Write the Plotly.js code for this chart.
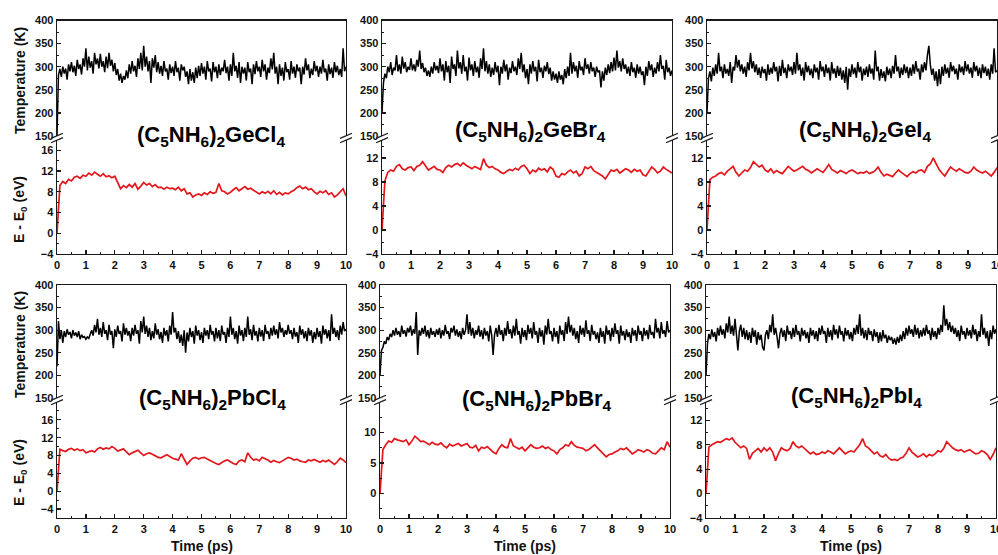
<!DOCTYPE html>
<html>
<head>
<meta charset="utf-8">
<script src="https://cdn.plot.ly/plotly-3.0.1.min.js"></script>
<style>
  html, body { margin: 0; padding: 0; background: #fff; }
  #chart { width: 998px; height: 555px; }
</style>
</head>
<body>
<div id="chart"></div>
<script>
// AIMD runs at 300 K: temperature and total-energy drift for six (C5NH6)2MX4 hybrids.
const TEMP_STEP_PS = 0.05;   // sampling interval of the temperature traces
const ENERGY_STEP_PS = 0.1;  // sampling interval of the energy traces

const compoundLabels = [
  '(C<sub>5</sub>NH<sub>6</sub>)<sub>2</sub>GeCl<sub>4</sub>',
  '(C<sub>5</sub>NH<sub>6</sub>)<sub>2</sub>GeBr<sub>4</sub>',
  '(C<sub>5</sub>NH<sub>6</sub>)<sub>2</sub>GeI<sub>4</sub>',
  '(C<sub>5</sub>NH<sub>6</sub>)<sub>2</sub>PbCl<sub>4</sub>',
  '(C<sub>5</sub>NH<sub>6</sub>)<sub>2</sub>PbBr<sub>4</sub>',
  '(C<sub>5</sub>NH<sub>6</sub>)<sub>2</sub>PbI<sub>4</sub>'
];

const timeTicks = [0, 1, 2, 3, 4, 5, 6, 7, 8, 9, 10];
const tempTicks = [150, 200, 250, 300, 350, 400];

// Temperature (K)
const tempGeCl4 = [
  150, 282, 295, 278, 300, 285, 296, 272, 305, 290,
  310, 288, 302, 280, 315, 295, 305, 283, 318, 300,
  340, 292, 322, 298, 312, 285, 330, 305, 318, 296,
  328, 300, 312, 288, 322, 297, 330, 302, 315, 290,
  308, 282, 295, 270, 285, 265, 280, 272, 292, 275,
  305, 285, 312, 290, 302, 278, 318, 295, 330, 292,
  345, 300, 322, 290, 312, 265, 318, 298, 325, 288,
  310, 285, 302, 280, 312, 290, 296, 272, 305, 286,
  300, 280, 312, 288, 298, 270, 305, 292, 300, 278,
  290, 262, 295, 270, 288, 265, 298, 275, 302, 280,
  308, 285, 300, 272, 312, 290, 296, 268, 310, 288,
  300, 275, 305, 282, 298, 290, 315, 286, 300, 270,
  305, 280, 330, 290, 302, 276, 310, 265, 300, 285,
  298, 270, 310, 288, 296, 262, 305, 284, 312, 290,
  300, 278, 315, 290, 305, 272, 298, 286, 318, 294,
  330, 285, 300, 262, 305, 280, 298, 270, 310, 288,
  295, 272, 312, 285, 300, 276, 305, 290, 298, 262,
  300, 283, 318, 292, 305, 275, 296, 282, 312, 290,
  302, 278, 300, 285, 315, 288, 296, 270, 305, 284,
  298, 276, 310, 288, 302, 282, 295, 278, 340, 290,
  300
];
const tempGeBr4 = [
  200, 265, 285, 275, 300, 288, 310, 282, 298, 292,
  325, 290, 305, 285, 322, 296, 310, 288, 300, 293,
  318, 292, 305, 290, 315, 300, 335, 295, 308, 288,
  298, 280, 292, 278, 300, 285, 310, 292, 302, 286,
  318, 290, 305, 270, 312, 288, 302, 265, 322, 295,
  305, 280, 335, 296, 310, 285, 325, 290, 300, 270,
  320, 292, 305, 280, 312, 288, 300, 276, 318, 295,
  340, 290, 312, 285, 305, 278, 298, 282, 310, 288,
  302, 260, 300, 285, 315, 290, 305, 272, 298, 286,
  312, 290, 300, 282, 318, 295, 330, 288, 305, 275,
  295, 262, 305, 285, 312, 290, 300, 268, 315, 288,
  298, 276, 302, 290, 310, 284, 298, 270, 290, 272,
  285, 265, 290, 272, 282, 262, 295, 275, 300, 280,
  330, 285, 310, 290, 302, 276, 312, 292, 300, 282,
  318, 295, 305, 285, 310, 290, 298, 278, 300, 288,
  292, 255, 290, 270, 298, 282, 305, 286, 310, 290,
  320, 292, 335, 298, 312, 290, 318, 295, 305, 285,
  300, 280, 310, 288, 298, 276, 305, 285, 300, 282,
  290, 260, 300, 280, 312, 292, 305, 278, 298, 285,
  310, 290, 325, 295, 302, 272, 315, 288, 298, 280,
  292
];
const tempGeI4 = [
  200, 275, 290, 268, 298, 280, 305, 285, 330, 290,
  300, 275, 305, 285, 295, 280, 310, 265, 300, 292,
  325, 298, 315, 290, 305, 285, 300, 278, 310, 292,
  330, 296, 312, 288, 305, 282, 298, 276, 300, 286,
  295, 270, 305, 282, 298, 285, 310, 290, 300, 268,
  302, 280, 315, 286, 298, 275, 305, 290, 300, 282,
  310, 285, 330, 292, 305, 280, 298, 270, 310, 288,
  302, 282, 296, 275, 305, 288, 298, 272, 312, 290,
  300, 278, 305, 286, 298, 270, 310, 285, 296, 276,
  302, 280, 298, 272, 292, 265, 300, 250, 296, 278,
  305, 284, 298, 276, 310, 288, 300, 270, 296, 282,
  300, 278, 305, 285, 296, 272, 335, 290, 300, 270,
  295, 276, 290, 268, 300, 282, 296, 275, 302, 285,
  325, 290, 300, 276, 298, 282, 305, 286, 300, 275,
  298, 280, 305, 285, 312, 290, 296, 272, 305, 288,
  310, 292, 325, 345, 305, 282, 296, 270, 290, 258,
  295, 262, 300, 280, 305, 285, 298, 276, 310, 290,
  302, 284, 296, 272, 305, 288, 300, 282, 312, 290,
  305, 285, 298, 276, 310, 290, 302, 280, 298, 275,
  305, 286, 300, 280, 296, 272, 305, 285, 340, 288,
  292
];
const tempPbCl4 = [
  220, 320, 280, 300, 272, 298, 285, 302, 290, 296,
  282, 300, 288, 295, 285, 298, 280, 290, 284, 286,
  280, 285, 282, 290, 300, 288, 312, 295, 325, 290,
  305, 285, 318, 292, 300, 278, 312, 290, 298, 260,
  302, 285, 310, 292, 298, 275, 315, 290, 305, 288,
  298, 276, 305, 288, 312, 292, 300, 270, 320, 295,
  330, 292, 310, 285, 305, 278, 298, 282, 315, 290,
  302, 280, 296, 272, 305, 288, 300, 275, 310, 290,
  340, 295, 305, 280, 298, 272, 290, 265, 300, 250,
  295, 275, 305, 285, 298, 270, 310, 288, 300, 278,
  296, 272, 305, 288, 300, 280, 312, 290, 298, 275,
  305, 282, 300, 276, 310, 290, 296, 272, 305, 285,
  330, 290, 305, 280, 298, 270, 310, 288, 300, 276,
  305, 285, 330, 290, 302, 278, 312, 288, 298, 275,
  305, 286, 300, 276, 312, 292, 298, 280, 305, 288,
  310, 290, 302, 282, 318, 295, 305, 285, 300, 290,
  312, 292, 300, 280, 305, 286, 296, 272, 310, 290,
  302, 282, 298, 276, 305, 288, 300, 272, 296, 280,
  305, 285, 298, 270, 310, 290, 302, 282, 300, 276,
  335, 292, 305, 285, 300, 278, 310, 290, 318, 298,
  302
];
const tempPbBr4 = [
  200, 255, 262, 275, 270, 285, 278, 292, 285, 300,
  288, 305, 290, 298, 285, 310, 292, 300, 286, 305,
  295, 310, 288, 302, 292, 340, 245, 300, 288, 305,
  292, 310, 286, 300, 282, 305, 290, 298, 285, 302,
  290, 305, 282, 300, 288, 312, 292, 298, 280, 305,
  295, 310, 288, 302, 285, 298, 280, 305, 290, 300,
  335, 292, 318, 288, 305, 282, 300, 290, 310, 286,
  300, 280, 305, 288, 298, 275, 310, 290, 245, 290,
  305, 285, 312, 290, 300, 276, 305, 288, 320, 292,
  302, 282, 310, 288, 325, 290, 298, 270, 305, 285,
  300, 278, 312, 292, 305, 282, 318, 290, 298, 272,
  305, 286, 300, 268, 310, 290, 325, 292, 298, 275,
  305, 285, 298, 270, 310, 290, 300, 276, 318, 292,
  330, 295, 312, 288, 305, 280, 298, 272, 310, 290,
  305, 285, 322, 292, 300, 276, 312, 290, 298, 280,
  295, 272, 305, 285, 298, 270, 310, 290, 300, 276,
  305, 285, 315, 292, 300, 270, 310, 288, 298, 278,
  302, 285, 296, 272, 305, 288, 300, 276, 310, 290,
  298, 276, 305, 288, 300, 280, 312, 290, 296, 282,
  325, 295, 305, 282, 318, 292, 300, 285, 320, 295,
  300
];
const tempPbI4 = [
  200, 270, 292, 280, 302, 285, 296, 275, 305, 288,
  310, 290, 302, 282, 315, 295, 330, 292, 310, 288,
  325, 290, 255, 298, 312, 285, 305, 280, 300, 278,
  296, 272, 305, 285, 300, 268, 296, 278, 290, 262,
  255, 290, 300, 280, 312, 295, 335, 290, 305, 285,
  260, 292, 305, 285, 300, 276, 310, 290, 298, 280,
  305, 285, 312, 290, 298, 275, 305, 288, 300, 282,
  296, 272, 305, 288, 300, 280, 298, 276, 305, 290,
  310, 292, 298, 272, 305, 285, 300, 278, 312, 290,
  302, 282, 310, 290, 298, 275, 305, 288, 300, 280,
  296, 276, 305, 290, 312, 292, 335, 288, 305, 282,
  300, 278, 305, 290, 298, 276, 302, 285, 296, 272,
  295, 275, 300, 282, 290, 272, 288, 278, 285, 270,
  282, 268, 285, 272, 290, 276, 298, 280, 305, 288,
  310, 292, 302, 285, 312, 290, 305, 282, 300, 286,
  305, 288, 312, 292, 300, 278, 305, 285, 298, 280,
  305, 290, 312, 296, 355, 310, 325, 300, 318, 296,
  310, 292, 305, 285, 300, 276, 310, 290, 298, 280,
  305, 288, 300, 282, 312, 290, 302, 276, 298, 285,
  335, 290, 305, 282, 298, 265, 300, 280, 310, 292,
  302
];

// E - E0 (eV)
const energyGeCl4 = [
  0, 9.2, 10.0, 9.6, 10.4, 10.1, 10.8, 11.0, 10.6, 11.2,
  11.0, 11.6, 11.2, 11.8, 11.4, 11.0, 11.5, 10.9, 11.1, 10.7,
  11.0, 9.8, 8.6, 9.2, 8.8, 9.4, 8.9, 9.6, 8.5, 9.1,
  9.8, 9.3, 9.6, 9.0, 9.4, 8.8, 8.9, 8.5, 8.9, 8.6,
  8.7, 8.4, 8.9, 8.2, 8.6, 7.6, 7.8, 7.0, 7.4, 7.6,
  7.3, 7.8, 7.5, 8.0, 7.7, 7.9, 9.6, 8.2, 8.0, 7.6,
  7.9, 8.4, 8.8, 8.2, 8.6, 9.0, 8.5, 8.7, 8.3, 7.9,
  7.6, 8.0, 7.7, 8.1, 7.6, 8.2, 7.5, 7.9, 7.4, 7.8,
  7.6, 8.0, 8.3, 8.8, 9.1, 8.6, 8.9, 8.4, 8.6, 8.0,
  7.6, 8.1, 7.8, 8.2, 7.5, 7.8, 7.0, 7.4, 8.0, 8.6,
  7.2
];
const energyGeBr4 = [
  0, 8.2, 9.6, 10.0, 9.8, 10.6, 10.9, 10.2, 10.0, 10.4,
  10.5, 9.9, 10.6, 10.8, 11.4, 10.6, 10.0, 10.3, 10.6, 10.1,
  10.0, 9.6, 10.4, 10.8, 10.5, 10.9, 11.1, 10.7, 11.2, 10.8,
  10.5, 10.2, 10.6, 10.4, 10.1, 11.9, 10.8, 10.4, 10.6, 10.2,
  10.0, 9.6, 9.4, 9.8, 10.1, 9.9, 10.3, 10.0, 10.6, 10.8,
  10.2, 9.4, 10.0, 9.7, 10.3, 10.0, 10.2, 9.7, 10.5, 10.1,
  9.0, 8.8, 9.4, 9.2, 9.7, 10.0, 9.5, 9.8, 9.0, 9.4,
  10.5, 10.2, 10.6, 9.9, 9.6, 9.4, 9.0, 8.5, 9.3, 10.0,
  9.8, 10.1, 9.5, 9.9, 10.2, 10.0, 9.6, 10.1, 9.8, 10.0,
  9.2, 9.0, 9.8, 10.5, 10.1, 9.5, 9.8, 10.5, 10.1, 9.8,
  9.5
];
const energyGeI4 = [
  0, 8.4, 8.8, 9.0, 9.4, 9.6, 9.2, 9.8, 10.2, 10.6,
  9.6, 9.0, 9.5, 10.0, 9.8, 10.4, 11.4, 10.9, 10.5, 10.8,
  10.0, 9.7, 10.2, 9.5, 9.9, 9.6, 9.4, 10.0, 10.6, 10.2,
  9.8, 10.0, 10.3, 10.6, 10.1, 9.9, 9.5, 9.8, 10.2, 9.9,
  9.6, 10.2, 10.9, 10.1, 9.8, 9.5, 9.9, 9.6, 9.4, 9.8,
  10.0, 9.7, 9.4, 9.6, 9.5, 9.8, 9.4, 9.6, 9.9, 10.5,
  9.6, 9.0, 9.3, 9.1, 8.9, 9.5, 10.0, 9.6, 9.2, 8.9,
  9.4, 9.7, 9.5, 9.9, 10.0, 9.6, 10.6, 11.0, 12.0, 11.0,
  10.1, 9.5, 9.0, 9.8, 10.5, 10.1, 9.8, 10.2, 9.9, 9.6,
  9.5, 9.8, 10.5, 10.0, 9.7, 9.5, 9.8, 9.4, 9.0, 9.6,
  10.4
];
const energyPbCl4 = [
  0, 9.4, 9.1, 8.9, 9.4, 9.6, 9.2, 9.5, 9.1, 9.3,
  8.6, 8.9, 9.1, 8.8, 9.5, 9.8, 9.4, 9.7, 9.5, 10.0,
  9.6, 9.0, 9.2, 9.5, 8.8, 8.2, 8.6, 9.0, 9.2, 8.6,
  8.0, 8.4, 8.6, 8.3, 8.0, 7.6, 7.5, 7.9, 8.2, 7.8,
  7.4, 7.2, 7.0, 8.4, 7.2, 6.0, 6.8, 7.4, 7.6, 7.2,
  7.5, 7.6, 7.2, 6.8, 6.5, 6.2, 6.0, 6.4, 6.8, 7.0,
  6.6, 6.2, 6.0, 6.8, 7.0, 6.6, 8.6, 7.6, 7.0, 7.2,
  6.8, 7.6, 7.3, 7.0, 6.5, 6.9, 6.6, 6.4, 6.8, 7.2,
  7.6, 7.4, 7.0, 7.2, 6.8, 6.6, 6.5, 7.0, 6.8, 7.1,
  6.8, 6.5, 6.9, 6.6, 7.0, 6.4, 6.0, 6.6, 7.4, 7.0,
  6.4
];
const energyPbBr4 = [
  0, 7.2, 8.0, 8.6, 8.4, 9.0, 8.8, 8.6, 8.5, 8.8,
  8.0, 8.6, 9.4, 9.0, 8.5, 8.6, 8.3, 8.0, 8.4, 8.1,
  8.0, 8.3, 7.8, 7.5, 8.1, 7.8, 8.0, 8.2, 7.8, 8.0,
  8.2, 7.6, 7.5, 7.9, 7.0, 7.6, 7.4, 7.7, 7.2, 6.8,
  6.5, 7.4, 8.0, 7.6, 7.5, 9.0, 7.8, 7.5, 7.3, 7.6,
  7.0, 7.5, 8.0, 7.6, 7.4, 7.5, 7.8, 7.4, 7.6, 7.2,
  7.0, 6.5, 7.2, 7.5, 8.0, 7.8, 8.5, 7.9, 7.6, 7.5,
  7.4, 7.0, 7.2, 7.6, 8.0, 7.5, 7.0, 6.6, 6.0, 6.4,
  6.5, 6.8, 7.0, 7.4, 7.2, 7.5, 7.0, 6.5, 6.8, 7.2,
  7.0, 6.8, 7.2, 7.0, 6.6, 6.5, 7.0, 7.5, 7.2, 8.5,
  7.6
];
const energyPbI4 = [
  0, 7.6, 8.0, 8.3, 8.5, 8.4, 8.7, 9.0, 8.8, 9.1,
  8.4, 8.0, 7.5, 7.8, 7.4, 5.6, 6.6, 7.0, 7.4, 6.8,
  7.5, 7.0, 7.5, 6.8, 5.4, 6.6, 7.5, 7.2, 7.0, 7.4,
  8.5, 7.8, 7.5, 7.8, 7.4, 7.0, 6.5, 6.8, 6.4, 6.5,
  6.8, 6.6, 7.0, 6.8, 6.5, 7.0, 7.5, 7.0, 6.5, 6.8,
  7.0, 6.8, 7.4, 8.0, 9.0, 7.8, 7.5, 7.0, 6.5, 6.8,
  6.2, 6.0, 6.4, 5.8, 5.5, 5.6, 5.4, 5.8, 6.0, 6.6,
  7.5, 6.8, 6.4, 6.0, 6.2, 6.5, 6.0, 6.4, 6.2, 6.5,
  7.0, 6.8, 7.4, 8.5, 8.0, 7.5, 7.2, 7.0, 7.2, 6.8,
  7.0, 7.2, 6.8, 6.5, 6.6, 7.0, 6.8, 6.4, 5.6, 6.4,
  7.5
];

const tempSeries = [tempGeCl4, tempGeBr4, tempGeI4, tempPbCl4, tempPbBr4, tempPbI4];
const energySeries = [energyGeCl4, energyGeBr4, energyGeI4, energyPbCl4, energyPbBr4, energyPbI4];

// energy axis ranges and major ticks per panel
const energyRanges = [[-4, 18], [-4, 15], [-4, 15], [-6, 20], [-4, 15], [-4, 15]];
const energyTicks = [
  [-4, 0, 4, 8, 12, 16],
  [-4, 0, 4, 8, 12],
  [-4, 0, 4, 8, 12],
  [-4, 0, 4, 8, 12, 16],
  [0, 5, 10],
  [-4, 0, 4, 8, 12]
];
const energyMinorStep = [2, 2, 2, 2, 2.5, 2];

// ---------- geometry (pixels in a 998 x 555 figure) ----------
const W = 998, H = 555;
const colPx = [[[57, 346], [382, 672], [707, 997]], [[57, 346], [380, 670], [706, 996]]];
const rowPx = [
  { temp: [20.5, 136], energy: [140, 254] },
  { temp: [285, 398], energy: [402, 518] }
];
const px = v => v / W;
const py = v => 1 - v / H;

const labelPos = [[211, 136], [530, 131], [865, 131], [212, 399], [537, 400], [856, 397]];

const tickFont = { family: 'Liberation Sans, Arial, sans-serif', size: 11, color: '#111', weight: 700 };
const titleFont = { family: 'Liberation Sans, Arial, sans-serif', size: 14, color: '#111', weight: 700 };
const frame = { showline: true, linecolor: '#1a1a1a', linewidth: 1.4, zeroline: false, showgrid: false };

const data = [];
const layout = {
  width: W, height: H,
  margin: { l: 0, r: 0, t: 0, b: 0 },
  paper_bgcolor: '#fff', plot_bgcolor: 'rgba(0,0,0,0)',
  showlegend: false,
  shapes: [], annotations: []
};

function breakMarks(xp, yp) {
  return [-2.2, 2.2].map(dy => ({
    type: 'line', xref: 'paper', yref: 'paper',
    xsizemode: 'pixel', ysizemode: 'pixel', xanchor: xp, yanchor: yp,
    x0: -6, x1: 6, y0: dy - 2.6, y1: dy + 2.6,
    line: { color: '#1a1a1a', width: 1.2 }
  }));
}

for (let p = 0; p < 6; p++) {
  const r = Math.floor(p / 3), c = p % 3;
  const [xl, xr] = colPx[r][c];
  const xdom = [px(xl), px(xr)];
  const kt = 2 * p + 1, ke = 2 * p + 2;
  const tdom = [py(rowPx[r].temp[1]), py(rowPx[r].temp[0])];
  const edom = [py(rowPx[r].energy[1]), py(rowPx[r].energy[0])];

  // temperature (upper) subplot
  layout['xaxis' + (kt === 1 ? '' : kt)] = Object.assign({}, frame, {
    domain: xdom, range: [0, 10], anchor: 'y' + (kt === 1 ? '' : kt),
    side: 'top', ticks: '', showticklabels: false, fixedrange: true
  });
  layout['yaxis' + (kt === 1 ? '' : kt)] = Object.assign({}, frame, {
    domain: tdom, range: [150, 400], anchor: 'x' + (kt === 1 ? '' : kt),
    mirror: true, tickmode: 'array', tickvals: tempTicks,
    ticks: 'inside', ticklen: 4, tickwidth: 1.2, tickcolor: '#1a1a1a',
    minor: { tickmode: 'linear', tick0: 150, dtick: 25, ticks: 'inside', ticklen: 2, tickwidth: 1, tickcolor: '#1a1a1a' },
    tickfont: tickFont, fixedrange: true
  });

  // energy (lower) subplot
  layout['xaxis' + ke] = Object.assign({}, frame, {
    domain: xdom, range: [0, 10], anchor: 'y' + ke,
    tickmode: 'array', tickvals: timeTicks,
    ticks: 'inside', ticklen: 4, tickwidth: 1.2, tickcolor: '#1a1a1a',
    minor: { tickmode: 'linear', tick0: 0, dtick: 0.5, ticks: 'inside', ticklen: 2, tickwidth: 1, tickcolor: '#1a1a1a' },
    tickfont: tickFont, ticklabeloverflow: 'allow', fixedrange: true
  });
  layout['yaxis' + ke] = Object.assign({}, frame, {
    domain: edom, range: energyRanges[p], anchor: 'x' + ke,
    mirror: true, tickmode: 'array', tickvals: energyTicks[p],
    ticks: 'inside', ticklen: 4, tickwidth: 1.2, tickcolor: '#1a1a1a',
    minor: { tickmode: 'linear', tick0: 0, dtick: energyMinorStep[p], ticks: 'inside', ticklen: 2, tickwidth: 1, tickcolor: '#1a1a1a' },
    tickfont: tickFont, fixedrange: true
  });

  data.push({
    type: 'scatter', mode: 'lines',
    y: tempSeries[p], x0: 0, dx: TEMP_STEP_PS,
    xaxis: 'x' + (kt === 1 ? '' : kt), yaxis: 'y' + (kt === 1 ? '' : kt),
    line: { color: '#000', width: 1.5 }, hoverinfo: 'skip'
  });
  data.push({
    type: 'scatter', mode: 'lines',
    y: energySeries[p], x0: 0, dx: ENERGY_STEP_PS,
    xaxis: 'x' + ke, yaxis: 'y' + ke,
    line: { color: '#e3161b', width: 1.7 }, hoverinfo: 'skip'
  });

  // axis-break marks on both sides of the panel
  const gapMid = py((rowPx[r].temp[1] + rowPx[r].energy[0]) / 2);
  layout.shapes.push(...breakMarks(xdom[0], gapMid), ...breakMarks(xdom[1], gapMid));

  // compound label
  layout.annotations.push({
    xref: 'paper', yref: 'paper', x: px(labelPos[p][0]), y: py(labelPos[p][1]),
    xanchor: 'center', yanchor: 'middle', showarrow: false,
    text: compoundLabels[p],
    font: { family: 'Liberation Sans, Arial, sans-serif', size: 22, color: '#000', weight: 700 }
  });

  if (r === 1) {
    layout.annotations.push({
      xref: 'paper', yref: 'paper', x: (xdom[0] + xdom[1]) / 2, y: py(546),
      xanchor: 'center', yanchor: 'middle', showarrow: false,
      text: 'Time (ps)', font: titleFont
    });
  }
}

// shared y titles on the left column
[[81, 'Temperature (K)'], [210, 'E - E<sub>0</sub> (eV)'], [345, 'Temperature (K)'], [473, 'E - E<sub>0</sub> (eV)']]
  .forEach(([y, t]) => layout.annotations.push({
    xref: 'paper', yref: 'paper', x: px(20), y: py(y),
    xanchor: 'center', yanchor: 'middle', showarrow: false, textangle: -90,
    text: t, font: titleFont
  }));

Plotly.newPlot('chart', data, layout, { displayModeBar: false, staticPlot: true });
</script>
</body>
</html>
